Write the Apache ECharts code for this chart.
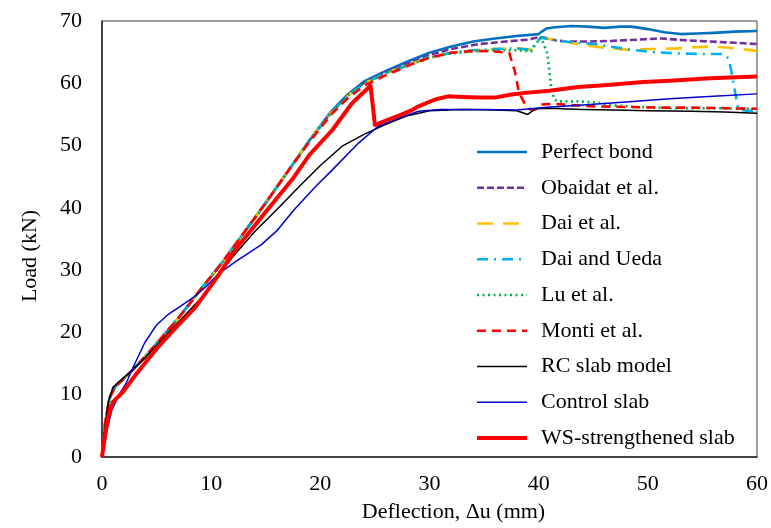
<!DOCTYPE html>
<html>
<head>
<meta charset="utf-8">
<title>Load–deflection curves</title>
<script src="https://cdn.jsdelivr.net/npm/echarts@6/dist/echarts.min.js"></script>
<style>
  html, body { margin: 0; padding: 0; background: #fff; }
  #chart { width: 771px; height: 528px; }
</style>
</head>
<body>
<div id="chart"></div>
<script>
// Load (kN) against mid-span deflection (mm), pairs of [deflection, load]
const perfectBond = [
  [0,0],[0.3,5.5],[0.7,9.5],[1.2,11.3],[2,12.6],[3,14.3],[4,16.2],[5,18.2],[7,22.3],[9,26.8],
  [11,31.2],[13,36],[15,40.8],[17,45.8],[19,50.8],[21,55.5],[22.5,58.2],[24,60.3],[26,62],[28,63.5],
  [30,64.9],[32,65.9],[34,66.7],[36,67.2],[38,67.6],[40,67.9],[40.3,68.3],[40.7,68.8],[41.5,69.0],[43,69.2],
  [44.5,69.1],[46,68.9],[47.5,69.1],[48.5,69.1],[50,68.7],[51.5,68.2],[53,67.9],[54.5,68.0],[56,68.1],[58,68.3],[60,68.4]
];
const obaidat = [
  [0,0],[0.3,5.5],[0.7,9.5],[1.2,11.3],[2,12.6],[3,14.3],[4,16.2],[5,18.2],[7,22.3],[9,26.8],
  [11,31.2],[13,36],[15,40.8],[17,45.8],[19,50.8],[21,55.4],[22.5,58.1],[24,60.1],[26,61.8],[28,63.2],
  [30,64.5],[32,65.5],[34.5,66.3],[37,66.7],[39,67.0],[40,67.4],[40.6,67.3],[41.5,66.9],[42.5,66.7],[44.5,66.7],
  [46.6,66.8],[49,67.0],[51.2,67.2],[53.5,66.9],[55.7,66.7],[58,66.5],[60,66.3]
];
const daiEtAl = [
  [0,0],[0.3,5.5],[0.7,9.5],[1.2,11.3],[2,12.6],[3,14.3],[4,16.2],[5,18.2],[7,22.3],[9,26.8],
  [11,31.2],[13,36],[15,40.8],[17,45.8],[19,50.8],[21,55.3],[22.5,58.0],[24,60.0],[26,61.6],[28,62.9],
  [30,64.2],[32,64.9],[34,65.3],[36,65.5],[38,65.6],[39.3,65.4],[39.7,66.4],[40.2,67.3],[41,67.1],[42.4,66.7],
  [43.8,66.2],[45.1,65.9],[46.6,65.6],[48.1,65.4],[50.4,65.5],[52.7,65.6],[55.7,65.9],[57.5,65.7],[59,65.4],[60,65.2]
];
const daiUeda = [
  [0,0],[0.3,5.5],[0.7,9.5],[1.2,11.3],[2,12.6],[3,14.3],[4,16.2],[5,18.2],[7,22.3],[9,26.8],
  [11,31.2],[13,36],[15,40.8],[17,45.8],[19,50.8],[21,55.3],[22.5,58.0],[24,60.0],[26,61.6],[28,62.9],
  [30,64.2],[32,64.9],[34,65.3],[36,65.5],[38,65.6],[39.3,65.4],[39.7,66.4],[40.2,67.3],[41,67.1],[42.4,66.7],
  [45.1,66.3],[48.4,65.4],[50.5,65.0],[52.7,64.8],[55,64.7],[56.9,64.7],[57.4,64.0],[57.7,61.5],[58,58.5],[58.3,55.8],
  [59,55.6],[60,55.6]
];
const luEtAl = [
  [0,0],[0.3,5.5],[0.7,9.5],[1.2,11.3],[2,12.6],[3,14.3],[4,16.2],[5,18.2],[7,22.3],[9,26.8],
  [11,31.2],[13,36],[15,40.8],[17,45.8],[19,50.8],[21,55.3],[22.5,58.0],[24,60.0],[26,61.6],[28,62.9],
  [30,64.1],[32,64.8],[34,65.1],[36,65.3],[38,65.3],[39.3,65.1],[39.7,66.2],[40.2,67.4],[40.8,64.8],[41.1,60.0],
  [41.4,57.5],[41.7,57.1],[43.5,57.1],[45.4,56.9],[46.6,56.5],[49,56.2],[52.7,56.0],[56,56.0],[60,55.9]
];
const montiEtAl = [
  [0,0],[0.3,5.5],[0.7,9.5],[1.2,11.3],[2,12.6],[3,14.3],[4,16.2],[5,18.2],[7,22.3],[9,26.8],
  [11,31.2],[13,36],[15,40.8],[17,45.8],[19,50.6],[21,55.0],[22.5,57.6],[24,59.6],[26,61.3],[28,62.8],
  [30,64.1],[32,64.9],[34,65.2],[36,65.1],[37.3,64.9],[37.8,62.0],[38.2,58.5],[38.7,56.8],[39.2,55.8],[39.7,55.8],
  [40.3,56.6],[41.5,56.7],[43,56.5],[45,56.3],[48,56.2],[51,56.1],[54,56.1],[57,56.0],[60,55.9]
];
const rcSlabModel = [
  [0,0],[0.3,5],[0.6,9],[1,11.2],[1.5,12],[2.5,13.5],[4,16],[6,19.8],[8,23.5],[9.5,26.3],
  [10.5,28.8],[12,32.2],[14,36.2],[16,39.7],[18,43.3],[20,46.8],[22,49.9],[24,51.8],[26,53.4],[28,54.8],
  [30,55.6],[33,55.8],[36,55.7],[38,55.6],[39,55.0],[39.7,55.9],[41,56.0],[44,55.8],[47,55.7],[50,55.6],
  [54,55.5],[57,55.4],[60,55.2]
];
const controlSlab = [
  [0,0],[0.4,4],[0.9,7.5],[1.5,9.8],[2.2,11.8],[2.8,14.2],[3.9,18.3],[5,21.2],[6,22.8],[7,24],
  [8.5,25.8],[9.5,27.3],[10.6,29.3],[12.1,31.2],[14.6,34.1],[16,36.3],[17.6,39.7],[19.5,43.3],[21.1,46.1],[23.5,50.4],
  [25.3,53.1],[27.2,54.4],[29,55.5],[31,55.8],[35,55.8],[38,55.7],[40.5,56.1],[44,56.5],[48,57.0],[52,57.5],
  [56,57.9],[60,58.3]
];
const wsStrengthened = [
  [0,0],[0.3,3.6],[0.6,6.6],[1,8.8],[1.9,10.4],[3,13.0],[4,15.2],[5.1,17.6],[7,21.2],[8.5,23.9],
  [10.6,29.0],[12.1,33.0],[14.6,38.5],[17.4,44.5],[19,48.5],[21.1,52.5],[22.9,56.8],[24.6,59.6],[24.8,56.5],[25,53.3],
  [26,54.0],[27.2,54.8],[28.4,55.7],[29,56.3],[30.5,57.4],[31.7,57.9],[33,57.8],[34.5,57.7],[36,57.7],[37.5,58.2],
  [39,58.5],[41,58.8],[43.6,59.4],[46,59.7],[49.6,60.2],[52,60.4],[55.7,60.8],[60,61.1]
];

const xTicks = [0, 10, 20, 30, 40, 50, 60];
const yTicks = [0, 10, 20, 30, 40, 50, 60, 70];

const seriesDefs = [
  { name: 'Perfect bond', data: perfectBond, color: '#0070C0', width: 2.6, type: 'solid' },
  { name: 'Obaidat et al.', data: obaidat, color: '#7030A0', width: 2.6, type: [7, 3] },
  { name: 'Dai et al.', data: daiEtAl, color: '#FFC000', width: 2.6, type: [16, 10] },
  { name: 'Dai and Ueda', data: daiUeda, color: '#00B0F0', width: 2.6, type: [11, 6, 2, 6] },
  { name: 'Lu et al.', data: luEtAl, color: '#00B050', width: 2.6, type: [2, 3.5] },
  { name: 'Monti et al.', data: montiEtAl, color: '#FF0000', width: 2.6, type: [9, 6] },
  { name: 'RC slab model', data: rcSlabModel, color: '#000000', width: 1.5, type: 'solid' },
  { name: 'Control slab', data: controlSlab, color: '#0000CC', width: 1.5, type: 'solid' },
  { name: 'WS-strengthened slab', data: wsStrengthened, color: '#FF0000', width: 4, type: 'solid' }
];

const font = '"Liberation Serif", "Times New Roman", serif';
const fs = 22;
const chart = echarts.init(document.getElementById('chart'), null, { renderer: 'canvas' });

chart.setOption({
  animation: false,
  backgroundColor: '#ffffff',
  textStyle: { fontFamily: font },
  grid: {
    left: 102, right: 11, top: 21, bottom: 70,
    show: true, borderColor: '#404040', borderWidth: 1, backgroundColor: 'transparent'
  },
  legend: {
    orient: 'vertical',
    left: 470, top: 136,
    itemWidth: 50, itemHeight: 14, itemGap: 13.75,
    itemStyle: { opacity: 0 },
    textStyle: { fontFamily: font, fontSize: fs, color: '#000', padding: [0, 0, 0, 9] },
    data: seriesDefs.map(s => ({
      name: s.name,
      lineStyle: { color: s.color, width: s.width, type: s.type, cap: 'butt' }
    }))
  },
  xAxis: {
    type: 'value', min: 0, max: 60, interval: 10,
    name: 'Deflection, \u0394u (mm)', nameLocation: 'middle', nameGap: 44,
    nameTextStyle: { fontFamily: font, fontSize: fs, color: '#000', padding: [0, 0, 0, 48] },
    axisLine: { show: true, lineStyle: { color: '#262626', width: 1.5 } },
    axisTick: { show: false },
    splitLine: { show: false },
    axisLabel: {
      fontFamily: font, fontSize: fs, color: '#000', margin: 16,
      formatter: v => (xTicks.includes(v) ? String(v) : '')
    }
  },
  yAxis: {
    type: 'value', min: 0, max: 70, interval: 10,
    name: 'Load (kN)', nameLocation: 'middle', nameGap: 61,
    nameTextStyle: { fontFamily: font, fontSize: fs, color: '#000', padding: [0, 34, 0, 0] },
    axisLine: { show: true, lineStyle: { color: '#262626', width: 1.5 } },
    axisTick: { show: false },
    splitLine: { show: false },
    axisLabel: {
      fontFamily: font, fontSize: fs, color: '#000', margin: 20,
      formatter: v => (yTicks.includes(v) ? String(v) : '')
    }
  },
  series: seriesDefs.map(s => ({
    name: s.name,
    type: 'line',
    data: s.data,
    showSymbol: false,
    symbol: 'none',
    smooth: false,
    color: s.color,
    lineStyle: { color: s.color, width: s.width, type: s.type, cap: 'butt', join: 'round' }
  }))
});
</script>
</body>
</html>
